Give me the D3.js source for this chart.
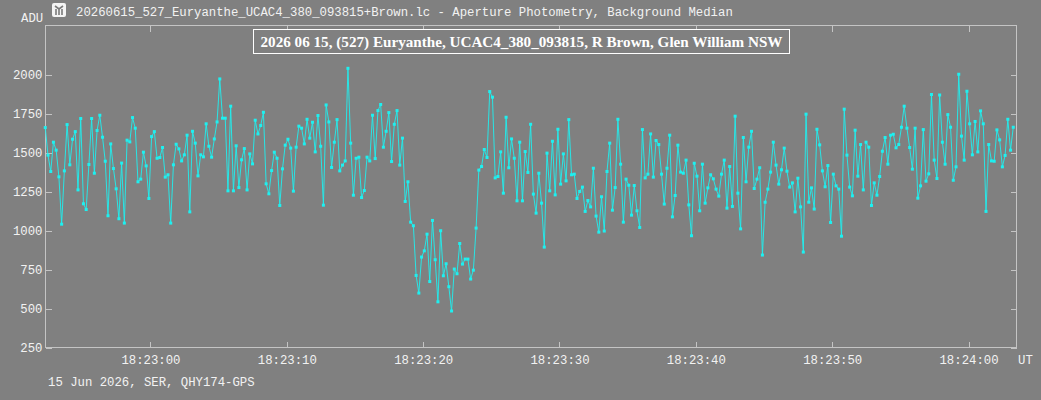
<!DOCTYPE html>
<html>
<head>
<meta charset="utf-8">
<script src="https://cdn.jsdelivr.net/npm/d3@7"></script>
<style>
  html, body { margin: 0; padding: 0; background: #808080; }
  svg { display: block; }
  .mono { font-family: "Liberation Mono", "Courier New", monospace; font-size: 12.3px; fill: #f2f2f2; }
</style>
</head>
<body>
<svg id="chart" width="1041" height="400"></svg>
<script>
// ---- Data (ADU per frame, 0.2 s cadence) ----
const windowTitle = "20260615_527_Euryanthe_UCAC4_380_093815+Brown.lc - Aperture Photometry, Background Median";
const plotTitle = "2026 06 15, (527) Euryanthe, UCAC4_380_093815, R Brown, Glen William NSW";
const footerText = "15 Jun 2026, SER, QHY174-GPS";
const yAxisLabel = "ADU";
const xAxisLabel = "UT";
const yTickValues = [250, 500, 750, 1000, 1250, 1500, 1750, 2000];
const startTime = "2026-06-15T18:22:52.320Z";
const frameSeconds = 0.2;
const axisStart = "2026-06-15T18:22:52.300Z";
const axisEnd = "2026-06-15T18:24:03.520Z";

const segA = [1658,1481,1376,1564,1513,1342,1038,1380,1677,1419,1583,1632,1258,1716,1169,1132,1421,1716,1365,1639,1737,1596,1442,1092,1553,1395,1265,1073,1430,1045,1577,1566,1722,1654,1310,1327,1500,1412,1203,1600,1632];
const segB = [1461,1466,1530,1340,1355,1045,1419,1551,1521,1444,1483,1609,1117,1634,1558,1348,1483,1470,1682,1538,1468,1585,1694,1970,1718,1718,1252,1795,1252,1541,1273,1451,1523,1258,1489,1425,1705,1617,1671];
const segC = [1756,1297,1233,1382,1500,1461,1158,1393,1545,1583,1526,1250,1532,1667,1654,1553,1711,1590,1692,1502,1735,1538,1160,1803,1694,1402,1564,1709,1380,1417,1444,2038,1558,1224,1461,1468,1209,1254,1468];
const segD = [1444,1737,1459,1767,1806,1532,1634,1754,1440,1679,1767,1417,1590,1184,1310,1051,1028,709,596,827,867,974,670,1062,810,540,996,707,784,637,481,750,720,914,782,814,814,686,743,1013];
const segE = [1385,1408,1517,1466,1889,1853,1335,1344,1502,1237,1724,1400,1585,1461,1188,1564,1188,1504,1370,1679,1231,1109,1365,1173,891,1494,1252,1570,1226,1647,1295,1489,1316,1709,1355,1359,1203,1248,1276,1120];
const segF = [1190,1149,1397,1090,987,1214,994,1376,1558,1128,1273,1711,1423,1051,1327,1288,1096,1286,1124,1017,1645,1335,1359,1617,1340,1575,1549,1359,1167,1397,1609,1085,1222,1545,1372,1365,1449,1162,964];
const segG = [1429,1346,1124,1423,1173,1271,1355,1329,1263,1218,1359,1449,1141,1408,1152,1731,1237,1008,1594,1310,1532,1634,1267,1327,1400,840,1179,1263,1372,1564,1417,1295,1387,1526,1378,1276,1303,1117,1333,1149];
const segH = [859,1744,1179,1271,1135,1647,1547,1380,1278,1414,1049,1359,1284,1263,961,1776,1481,1276,1220,1641,1346,1549,1258,1564,1532,1158,1303,1224,1344,1506,1594,1423,1609,1615,1528,1549,1660,1795,1654];
const segI = [1530,1391,1654,1205,1284,1645,1314,1361,1870,1449,1331,1867,1564,1423,1741,1660,1320,1406,2000,1603,1449,1891,1682,1483,1697,1502,1765,1682,1120,1549,1444,1442,1643,1579,1406,1479,1711,1513,1660];
const adu = [].concat(segA, segB, segC, segD, segE, segF, segG, segH, segI);

// ---- Layout ----
const svg = d3.select("#chart");
const plotLeft = 45, plotRight = 1016, plotTop = 25, plotBottom = 347;
const frameColor = "#c4c4c4";
const lineColor = "#1ef0f0";

const t0 = new Date(startTime).getTime();
const points = adu.map((v, i) => ({ t: new Date(t0 + i * frameSeconds * 1000), v }));

const x = d3.scaleUtc()
  .domain([new Date(axisStart), new Date(axisEnd)])
  .range([plotLeft, plotRight]);
const y = d3.scaleLinear()
  .domain([250, 2316])
  .range([plotBottom, plotTop]);

const xTicks = x.ticks(d3.utcSecond.every(10));
const fmt = d3.utcFormat("%H:%M:%S");

// Frame
svg.append("rect")
  .attr("x", plotLeft + 0.5).attr("y", plotTop + 0.5)
  .attr("width", plotRight - plotLeft).attr("height", plotBottom - plotTop)
  .attr("fill", "none").attr("stroke", frameColor).attr("stroke-width", 1);

function styleAxis(g) {
  g.select(".domain").remove();
  g.selectAll(".tick line").attr("stroke", frameColor).attr("shape-rendering", "crispEdges");
  g.selectAll(".tick text")
    .attr("fill", "#f2f2f2")
    .style("font-family", '"Liberation Mono", "Courier New", monospace')
    .style("font-size", "12.3px");
}

svg.append("g")
  .attr("transform", `translate(0.5,${plotBottom + 0.5})`)
  .call(d3.axisBottom(x).tickValues(xTicks).tickFormat(fmt).tickSizeInner(-6).tickSizeOuter(0).tickPadding(8))
  .call(styleAxis);
svg.append("g")
  .attr("transform", `translate(0.5,${plotTop + 0.5})`)
  .call(d3.axisTop(x).tickValues(xTicks).tickFormat("").tickSizeInner(-6).tickSizeOuter(0))
  .call(styleAxis);
svg.append("g")
  .attr("transform", `translate(${plotLeft + 0.5},0.5)`)
  .call(d3.axisLeft(y).tickValues(yTickValues).tickFormat(d3.format("d")).tickSizeInner(-6).tickSizeOuter(0).tickPadding(3))
  .call(styleAxis);
svg.append("g")
  .attr("transform", `translate(${plotRight + 0.5},0.5)`)
  .call(d3.axisRight(y).tickValues(yTickValues).tickFormat("").tickSizeInner(-6).tickSizeOuter(0))
  .call(styleAxis);

// Data line
svg.append("path")
  .datum(points)
  .attr("fill", "none")
  .attr("stroke", lineColor)
  .attr("stroke-width", 0.9)
  .attr("d", d3.line().x(d => x(d.t)).y(d => y(d.v)));

// Markers
svg.append("g").selectAll("rect")
  .data(points)
  .join("rect")
  .attr("x", d => x(d.t) - 1.5)
  .attr("y", d => y(d.v) - 1.5)
  .attr("width", 3).attr("height", 3)
  .attr("fill", lineColor);

// Texts
svg.append("text").attr("class", "mono").attr("x", 76).attr("y", 16).text(windowTitle);
svg.append("text").attr("class", "mono").attr("x", 21).attr("y", 22).text(yAxisLabel);
svg.append("text").attr("class", "mono").attr("x", 1018).attr("y", 364).text(xAxisLabel);
svg.append("text").attr("class", "mono").attr("x", 48).attr("y", 386).text(footerText);

// Icon
const icon = svg.append("g").attr("transform", "translate(52,3)");
icon.append("rect").attr("x", 0).attr("y", 0).attr("width", 14).attr("height", 14).attr("rx", 2).attr("fill", "#f4f4f4");
icon.append("path").attr("d", "M3,3 L7,6 L11,3 M4,6 L4,12 M7,6 L7,12 M10,6 L10,12")
  .attr("stroke", "#7a7a7a").attr("stroke-width", 1.6).attr("fill", "none");

// Plot title box
const titleG = svg.append("g");
titleG.append("rect")
  .attr("x", 253.5).attr("y", 29.5)
  .attr("width", 536).attr("height", 24)
  .attr("fill", "#808080").attr("stroke", "#ffffff").attr("stroke-width", 1);
titleG.append("text")
  .attr("x", 521.5).attr("y", 47)
  .attr("text-anchor", "middle")
  .attr("textLength", 522)
  .attr("lengthAdjust", "spacingAndGlyphs")
  .style("font-family", '"Liberation Serif", "Times New Roman", serif')
  .style("font-weight", "bold")
  .style("font-size", "15px")
  .attr("fill", "#ffffff")
  .text(plotTitle);
</script>
</body>
</html>
